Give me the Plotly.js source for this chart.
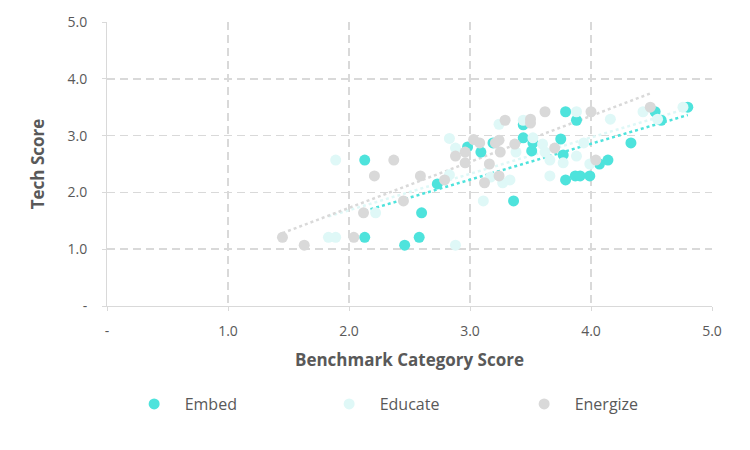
<!DOCTYPE html>
<html>
<head>
<meta charset="utf-8">
<script src="https://cdn.plot.ly/plotly-3.0.1.min.js"></script>
<style>html,body{margin:0;padding:0;background:#fff;}#chart{width:750px;height:450px;}</style>
</head>
<body>
<div id="chart"></div>
<script>
const seriesNames = ["Embed", "Educate", "Energize"];
const seriesColors = ["#4ee3dc", "#dff8f7", "#d9d9d9"];

const embedX = [2.13, 2.13, 2.46, 2.58, 2.60, 2.73, 2.98, 3.09, 3.19, 3.36, 3.44, 3.44, 3.51, 3.52, 3.75, 3.77, 3.79, 3.88, 3.79, 3.87, 3.91, 3.99, 4.07, 4.14, 4.33, 4.53, 4.58, 4.80];
const embedY = [2.57, 1.21, 1.07, 1.21, 1.64, 2.15, 2.80, 2.71, 2.87, 1.85, 3.19, 2.96, 2.73, 2.87, 2.94, 2.66, 3.42, 3.27, 2.22, 2.29, 2.29, 2.29, 2.50, 2.57, 2.87, 3.42, 3.27, 3.50];

const educateX = [1.83, 1.89, 1.89, 2.22, 2.88, 2.83, 2.88, 2.83, 3.11, 3.27, 3.33, 3.24, 3.44, 3.52, 3.60, 3.62, 3.66, 3.66, 3.77, 3.88, 3.88, 3.99, 4.16, 4.43, 4.55, 4.76, 3.38, 3.94, 3.17];
const educateY = [1.21, 1.21, 2.57, 1.64, 1.07, 2.95, 2.78, 2.31, 1.85, 2.17, 2.22, 3.20, 3.27, 2.96, 2.85, 2.71, 2.57, 2.29, 2.52, 2.64, 3.42, 2.50, 3.29, 3.42, 3.29, 3.50, 2.71, 2.87, 2.27];

const energizeX = [1.45, 1.63, 2.04, 2.12, 2.21, 2.37, 2.45, 2.59, 2.96, 2.88, 2.96, 2.79, 3.03, 3.08, 3.29, 3.24, 3.21, 3.25, 3.16, 3.24, 3.12, 3.50, 3.50, 3.37, 3.62, 3.70, 4.00, 4.04, 4.49];
const energizeY = [1.21, 1.07, 1.21, 1.64, 2.29, 2.57, 1.85, 2.29, 2.71, 2.64, 2.52, 2.22, 2.93, 2.87, 3.27, 2.92, 2.87, 2.71, 2.50, 2.29, 2.17, 3.29, 3.22, 2.85, 3.42, 2.78, 3.42, 2.57, 3.50];

const tickValues = [0, 1, 2, 3, 4, 5];
const tickLabels = ["-", "1.0", "2.0", "3.0", "4.0", "5.0"];

const xs = [embedX, educateX, energizeX];
const ys = [embedY, educateY, energizeY];

function fit(x, y) {
  const n = x.length;
  let sx = 0, sy = 0, sxx = 0, sxy = 0;
  for (let i = 0; i < n; i++) { sx += x[i]; sy += y[i]; sxx += x[i]*x[i]; sxy += x[i]*y[i]; }
  const b = (n*sxy - sx*sy) / (n*sxx - sx*sx);
  const a = (sy - b*sx) / n;
  const x0 = Math.min(...x), x1 = Math.max(...x);
  return {x: [x0, x1], y: [a + b*x0, a + b*x1]};
}

const traces = [];
for (let k = 0; k < 3; k++) {
  const f = fit(xs[k], ys[k]);
  traces.push({
    x: f.x, y: f.y, type: "scatter", mode: "lines", showlegend: false, hoverinfo: "skip",
    line: {color: seriesColors[k], width: 2.5, dash: "dot"}
  });
}
for (let k = 0; k < 3; k++) {
  traces.push({
    x: xs[k], y: ys[k], type: "scatter", mode: "markers", name: seriesNames[k],
    marker: {color: seriesColors[k], size: 11, line: {width: 0}}
  });
}

const axisCommon = {
  range: [0, 5], tickvals: tickValues, ticktext: tickLabels,
  showgrid: true, gridcolor: "#d9d9d9", gridwidth: 1.5, griddash: "8px,5px",
  zeroline: false, showline: true, linecolor: "#d9d9d9", linewidth: 1,
  ticks: "outside", ticklen: 4, tickcolor: "#d9d9d9",
  tickfont: {family: "Open Sans, sans-serif", size: 14, color: "#595959"},
  fixedrange: true
};

const layout = {
  width: 750, height: 450,
  margin: {l: 107, r: 38, t: 22, b: 144},
  paper_bgcolor: "#ffffff", plot_bgcolor: "#ffffff",
  xaxis: Object.assign({}, axisCommon, {
    ticklabelstandoff: 8,
    title: {text: "<b>Benchmark Category Score</b>", font: {family: "Open Sans, sans-serif", size: 17, color: "#595959"}, standoff: 15}
  }),
  yaxis: Object.assign({}, axisCommon, {
    ticklabelstandoff: 12,
    title: {text: "<b>Tech Score</b>", font: {family: "Open Sans, sans-serif", size: 17, color: "#595959"}, standoff: 18}
  }),
  legend: {
    orientation: "h", x: 0.511, xanchor: "center", y: -0.345, yanchor: "middle",
    font: {family: "Open Sans, sans-serif", size: 16, color: "#595959"},
    entrywidth: 129, itemwidth: 51
  },
  showlegend: true
};

Plotly.newPlot("chart", traces, layout, {displayModeBar: false, staticPlot: true});
</script>
</body>
</html>
